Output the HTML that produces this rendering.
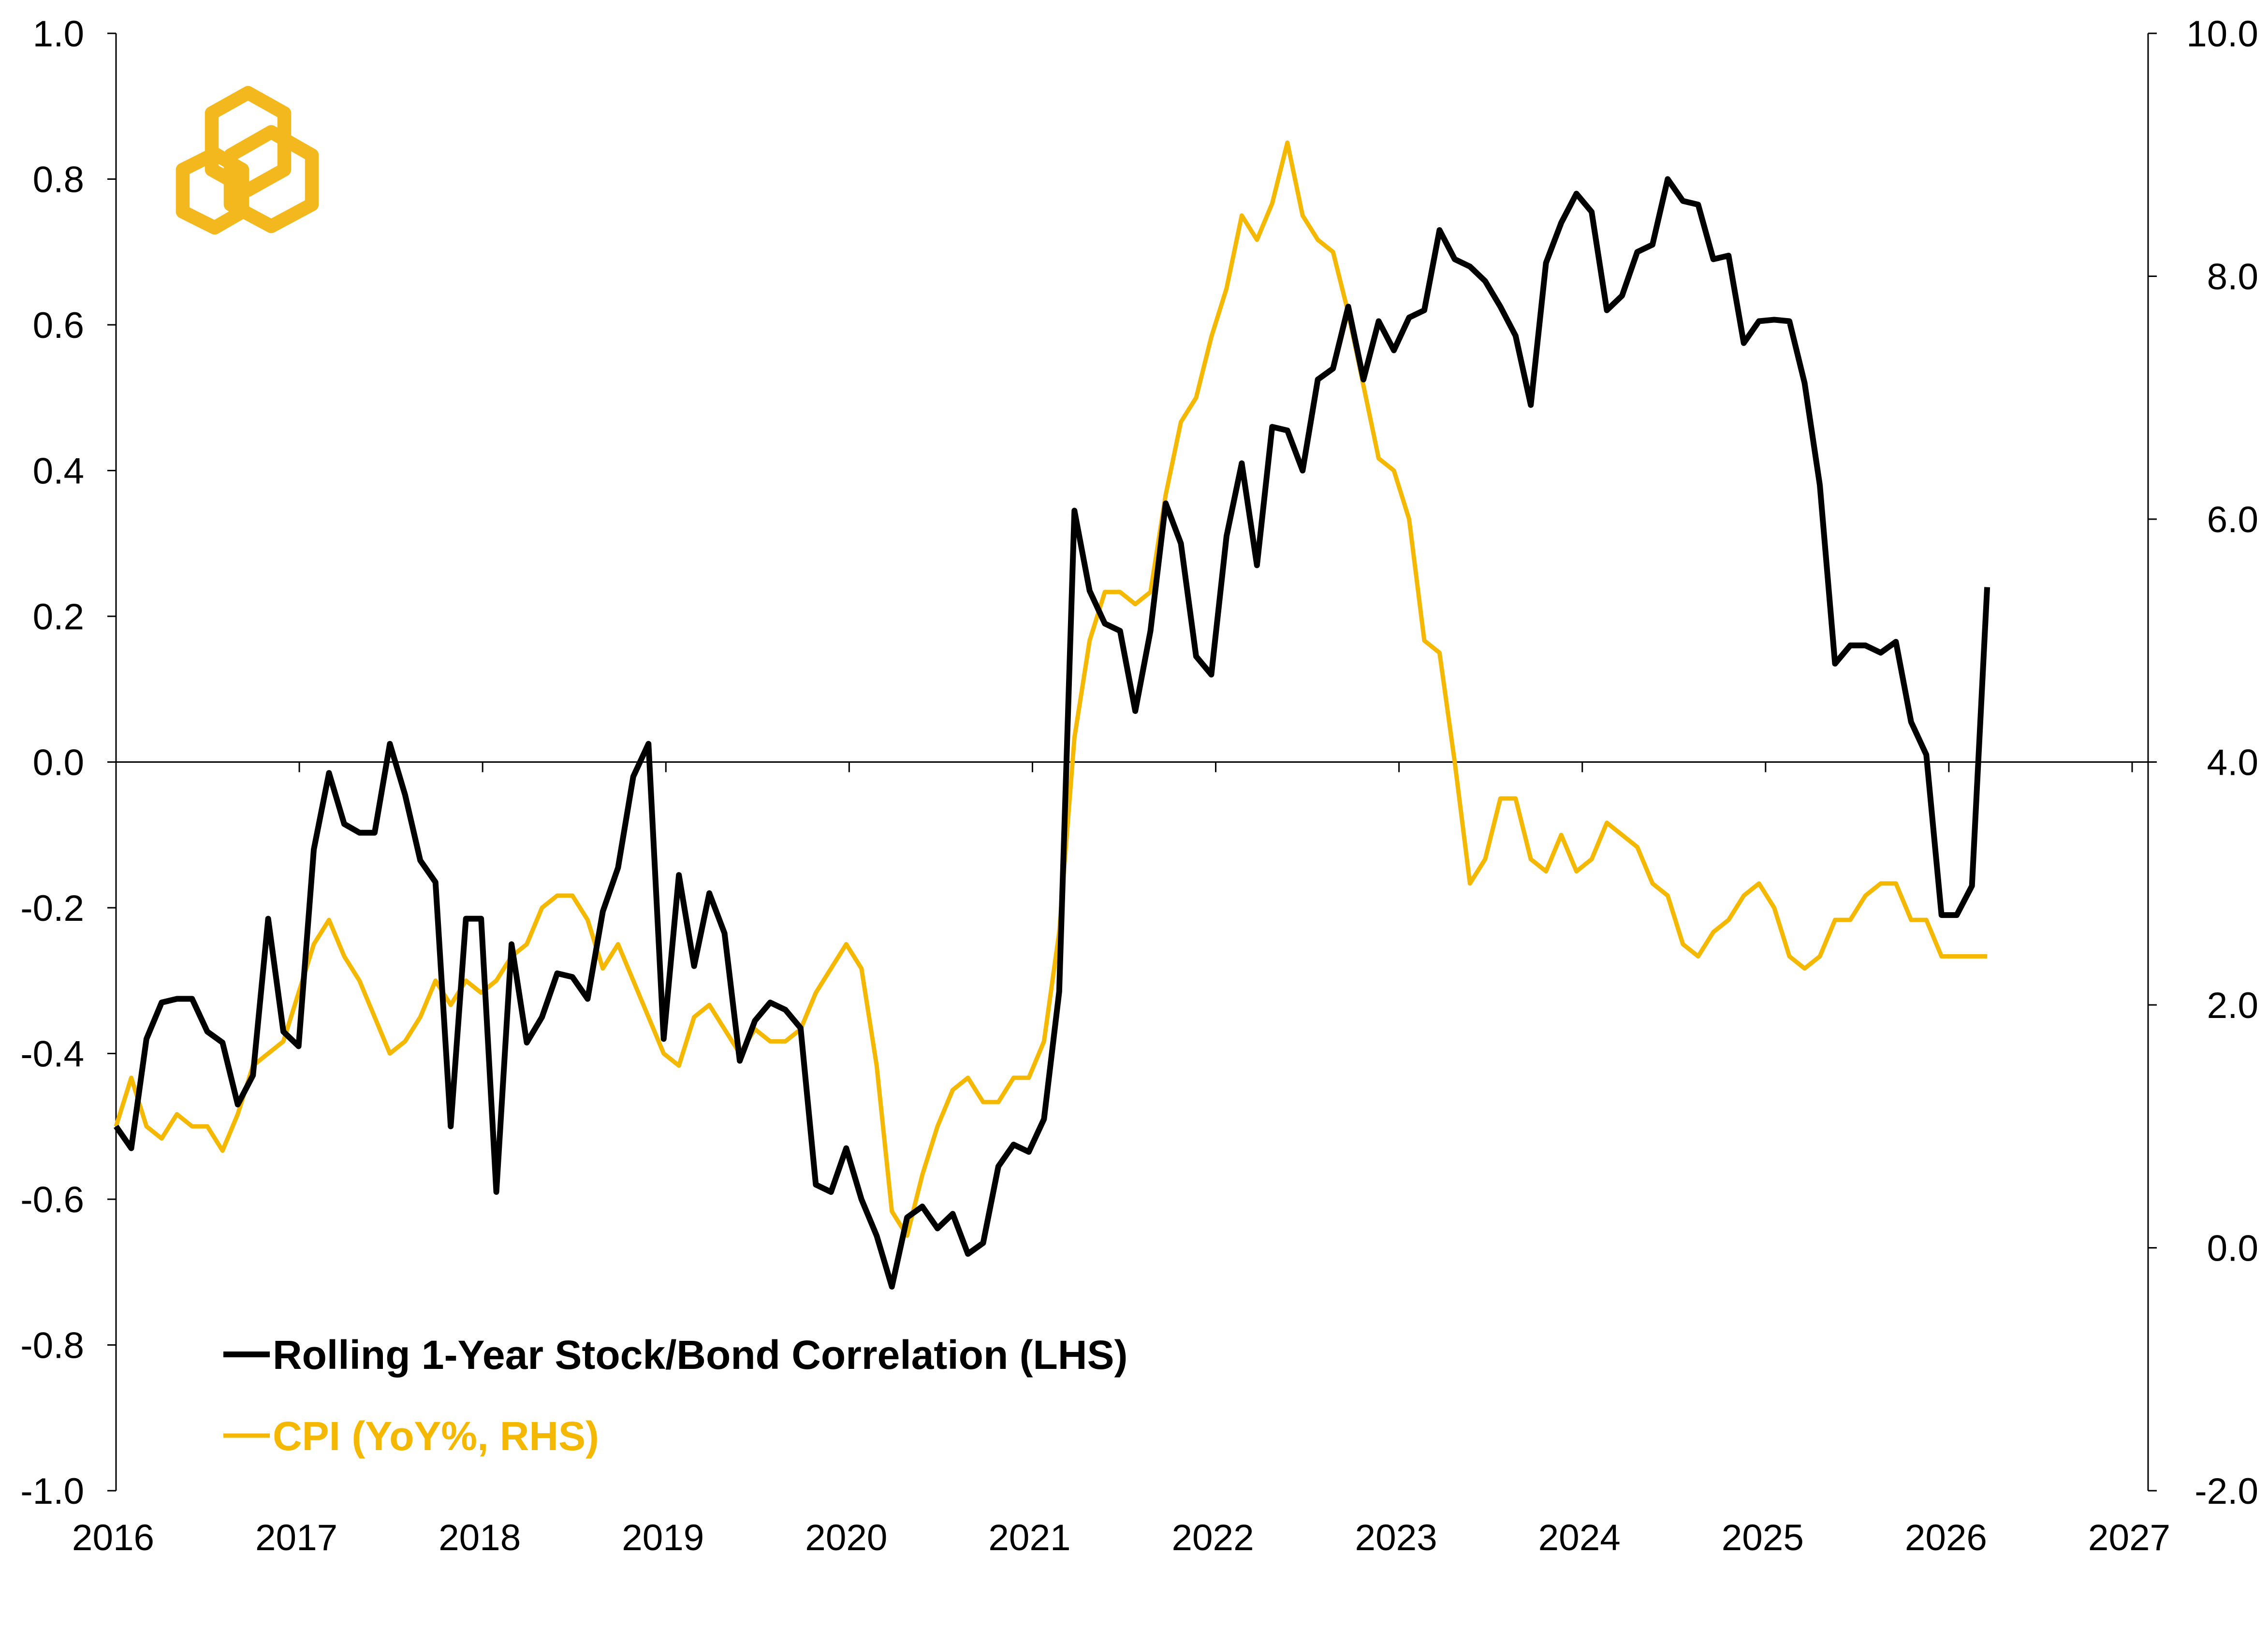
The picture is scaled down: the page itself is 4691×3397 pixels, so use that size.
<!DOCTYPE html>
<html><head><meta charset="utf-8"><style>
html,body{margin:0;padding:0;background:#fff;}
svg{display:block;}
text{font-family:"Liberation Sans",Arial,sans-serif;}
</style></head><body>
<svg id="chart" width="4691" height="3397" viewBox="0 0 1563.67 1132.33" xmlns="http://www.w3.org/2000/svg">
<g id="logo" fill="none" stroke="#F2B81E" stroke-width="9.5" stroke-linejoin="round">
<polygon points="171,64 196,78 196,117 171,131 146,117 146,78"/>
<polygon points="148,106 167,117 167,146 148,157 126,146 126,117"/>
<polygon points="187,91 215,107 215,141 187,156 159,141 159,107"/>
</g>
<g id="axes"></g>
<g id="series"></g>
<g id="legend">
<line x1="154" y1="934" x2="186" y2="934" stroke="#000" stroke-width="4"/>
<text x="188" y="944" font-size="28" font-weight="bold" fill="#000">Rolling 1-Year Stock/Bond Correlation (LHS)</text>
<line x1="154" y1="990" x2="186" y2="990" stroke="#F5B800" stroke-width="3"/>
<text x="188" y="1000" font-size="28" font-weight="bold" fill="#F5B800">CPI (YoY%, RHS)</text>
</g>
</svg>
<script>
const startYear = 2016;
const monthStep = 0.083;
const corrValues = [-0.50,-0.53,-0.38,-0.33,-0.325,-0.325,-0.37,-0.385,-0.47,-0.43,-0.215,-0.37,
-0.39,-0.12,-0.015,-0.085,-0.097,-0.097,0.025,-0.045,-0.135,-0.165,-0.50,-0.215,
-0.215,-0.59,-0.25,-0.385,-0.35,-0.29,-0.295,-0.325,-0.205,-0.145,-0.02,0.025,
-0.38,-0.155,-0.28,-0.18,-0.235,-0.41,-0.355,-0.33,-0.34,-0.365,-0.58,-0.59,
-0.53,-0.60,-0.65,-0.72,-0.625,-0.61,-0.64,-0.62,-0.675,-0.66,-0.555,-0.525,
-0.535,-0.49,-0.315,0.345,0.235,0.19,0.18,0.07,0.18,0.355,0.30,0.145,
0.12,0.31,0.41,0.27,0.46,0.455,0.40,0.525,0.54,0.625,0.525,0.605,
0.565,0.61,0.62,0.73,0.69,0.68,0.66,0.625,0.585,0.49,0.685,0.74,
0.78,0.755,0.62,0.64,0.70,0.71,0.80,0.77,0.765,0.69,0.695,0.575,
0.605,0.607,0.605,0.52,0.38,0.135,0.16,0.16,0.15,0.165,0.055,0.01,
-0.21,-0.21,-0.17,0.24];
const cpiValues = [1.0,1.4,1.0,0.9,1.1,1.0,1.0,0.8,1.1,1.5,1.6,1.7,
2.1,2.5,2.7,2.4,2.2,1.9,1.6,1.7,1.9,2.2,2.0,2.2,
2.1,2.2,2.4,2.5,2.8,2.9,2.9,2.7,2.3,2.5,2.2,1.9,
1.6,1.5,1.9,2.0,1.8,1.6,1.8,1.7,1.7,1.8,2.1,2.3,
2.5,2.3,1.5,0.3,0.1,0.6,1.0,1.3,1.4,1.2,1.2,1.4,
1.4,1.7,2.6,4.2,5.0,5.4,5.4,5.3,5.4,6.2,6.8,7.0,
7.5,7.9,8.5,8.3,8.6,9.1,8.5,8.3,8.2,7.7,7.1,6.5,
6.4,6.0,5.0,4.9,4.0,3.0,3.2,3.7,3.7,3.2,3.1,3.4,
3.1,3.2,3.5,3.4,3.3,3.0,2.9,2.5,2.4,2.6,2.7,2.9,
3.0,2.8,2.4,2.3,2.4,2.7,2.7,2.9,3.0,3.0,2.7,2.7,
2.4,2.4,2.4,2.4];
const yearTicks = [2016,2017,2018,2019,2020,2021,2022,2023,2024,2025,2026,2027];
const leftTicks = [1.0,0.8,0.6,0.4,0.2,0.0,-0.2,-0.4,-0.6,-0.8,-1.0];
const rightTicks = [10.0,8.0,6.0,4.0,2.0,0.0,-2.0];

const X0=80, X1=1470, Y0=23, Y1=1028, RX=1481;
const xs = t => X0 + (t-2016)/(2027-2016)*(X1-X0);
const yl = v => Y1 - (v+1)/2*(Y1-Y0);
const yr = v => Y1 - (v+2)/12*(Y1-Y0);
const NS="http://www.w3.org/2000/svg";
function mk(tag, attrs, parent){const e=document.createElementNS(NS,tag);for(const k in attrs)e.setAttribute(k,attrs[k]);parent.appendChild(e);return e;}
const axes=document.getElementById('axes');
let e;
e=mk('line',{x1:X0,y1:Y0,x2:X0,y2:Y1,stroke:'#000','stroke-width':1},axes);


e=mk('line',{x1:RX,y1:Y0,x2:RX,y2:Y1,stroke:'#000','stroke-width':1},axes);


e=mk('line',{x1:X0,y1:yl(0),x2:RX,y2:yl(0),stroke:'#000','stroke-width':1},axes);


leftTicks.forEach(v=>{
  const y=yl(v);
  e=mk('line',{x1:X0-6,y1:y,x2:X0,y2:y,stroke:'#000','stroke-width':1},axes);
  
  
  e=mk('text',{x:X0-22,y:y+9,'font-size':25.5,'text-anchor':'end',fill:'#000'},axes);
  e.textContent=v.toFixed(1);
  
  
});
rightTicks.forEach(v=>{
  const y=yr(v);
  e=mk('line',{x1:RX,y1:y,x2:RX+6,y2:y,stroke:'#000','stroke-width':1},axes);
  
  
  e=mk('text',{x:RX+76,y:y+9,'font-size':25.5,'text-anchor':'end',fill:'#000'},axes);
  e.textContent=v.toFixed(1);
  
  
});
yearTicks.forEach(yv=>{
  const x=xs(yv);
  e=mk('line',{x1:x,y1:yl(0),x2:x,y2:yl(0)+7,stroke:'#000','stroke-width':1},axes);
  
  
  e=mk('text',{x:x-2,y:1069,'font-size':25.5,'text-anchor':'middle',fill:'#000'},axes);
  e.textContent=yv;
  
  
});
const ser=document.getElementById('series');
const cpiPts=cpiValues.map((v,i)=>xs(startYear+i*monthStep).toFixed(2)+','+yr(v).toFixed(2)).join(' ');
e=mk('polyline',{points:cpiPts,fill:'none',stroke:'#F5B800','stroke-width':3,'stroke-linejoin':'round'},ser);


const corrPts=corrValues.map((v,i)=>xs(startYear+i*monthStep).toFixed(2)+','+yl(v).toFixed(2)).join(' ');
e=mk('polyline',{points:corrPts,fill:'none',stroke:'#000','stroke-width':4,'stroke-linejoin':'round'},ser);


</script>
</body></html>
